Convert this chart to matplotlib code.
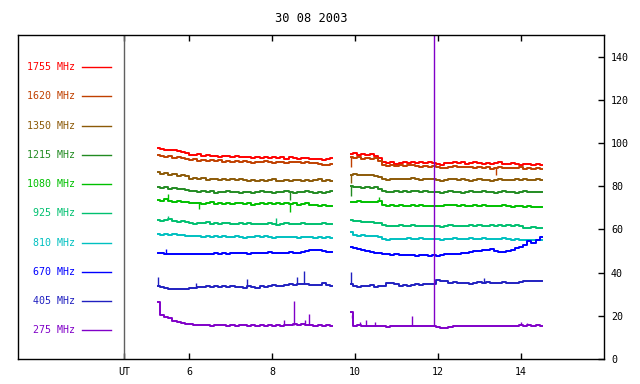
import numpy as np
import matplotlib
matplotlib.use("Agg")
import matplotlib.pyplot as plt

plt.rcParams['font.family'] = 'DejaVu Sans Mono'
plt.rcParams['font.size'] = 7.2

title = "30 08 2003"
labels = ["1755 MHz", "1620 MHz", "1350 MHz", "1215 MHz", "1080 MHz",
          "925 MHz", "810 MHz", "670 MHz", "405 MHz", "275 MHz"]
colors = ["#ff0000", "#c04000", "#8c5a08", "#228b22", "#00c000",
          "#00c070", "#00c0c0", "#0000ff", "#2020c0", "#8000c8"]

# two recording segments, 0.1 h sampling
start1 = 5.25
start2 = 9.9

f1755_a = [97.8, 97.2, 96.9, 96.6, 96.8, 96.2, 95.9, 95.4, 94.6, 94.3,
           94.8, 94.1, 94.4, 93.8, 94.2, 93.6, 93.9, 94.1, 93.5, 93.8,
           93.3, 93.7, 93.4, 93.0, 93.5, 93.2, 93.6, 93.1, 93.4, 93.0,
           93.3, 92.8, 93.5, 93.1, 92.7, 93.2, 92.9, 92.5, 92.8, 92.4,
           92.0, 92.6, 92.9]
f1755_b = [94.8, 95.2, 94.6, 95.0, 94.4, 94.7, 94.2, 93.0, 91.0, 90.6,
           91.0, 90.5, 90.9, 91.3, 90.7, 91.1, 90.8, 91.2, 90.6, 91.0,
           90.8, 90.2, 89.8, 90.6, 90.9, 91.4, 90.7, 91.1, 90.5, 90.8,
           91.2, 90.6, 90.3, 90.8, 90.1, 90.6, 91.0, 90.4, 90.2, 90.7,
           90.3, 89.9, 90.5, 90.1, 89.8, 90.4, 90.0]

f1620_a = [94.6, 94.0, 93.5, 93.8, 93.2, 93.5, 93.0, 92.6, 92.0, 92.4,
           91.7, 92.2, 91.5, 92.0, 91.6, 91.9, 91.4, 91.8, 91.2, 91.6,
           91.0, 91.5, 91.3, 90.9, 91.4, 91.0, 91.6, 91.2, 90.8, 91.3,
           91.1, 90.7, 91.2, 91.0, 91.4, 90.8, 91.1, 90.6, 90.9, 90.4,
           89.8, 89.6, 90.5]
f1620_b = [93.5, 93.0, 93.4, 92.8, 93.1, 92.6, 92.9, 91.5, 89.6, 89.3,
           89.7, 89.4, 89.8, 89.2, 89.6, 89.9, 89.5, 89.1, 89.4, 89.0,
           89.3, 88.9, 88.2, 88.6, 88.9, 89.3, 88.8, 89.1, 88.7, 89.0,
           88.6, 88.9, 88.4, 88.7, 88.0, 88.5, 88.8, 88.3, 88.6, 88.2,
           88.5, 88.7, 88.1, 88.4, 87.9, 88.2, 88.0]

f1350_a = [86.4, 85.6, 85.9, 85.2, 85.5, 84.9, 85.1, 84.6, 83.4, 83.8,
           83.2, 83.6, 83.0, 83.5, 83.1, 82.8, 83.3, 82.9, 83.2, 82.7,
           83.1, 82.8, 82.5, 83.0, 82.6, 82.9, 82.4, 82.8, 83.1, 82.6,
           82.3, 82.9, 82.5, 82.7, 83.0, 82.6, 82.9, 82.4, 82.8, 83.1,
           82.6, 82.9, 82.5]
f1350_b = [85.0, 85.6, 85.2, 85.4, 85.0, 85.3, 84.9, 84.2, 83.3, 83.0,
           83.2, 83.5, 83.1, 83.4, 83.2, 83.6, 83.3, 83.0, 83.4, 83.1,
           83.3, 82.9, 82.4, 82.8, 83.1, 83.4, 82.9, 83.2, 82.7, 82.4,
           82.9, 83.2, 82.8, 83.0, 82.6, 82.9, 83.3, 82.8, 83.0, 82.7,
           83.1, 82.9, 83.2, 82.8, 83.0, 83.1, 82.9]

f1215_a = [79.7, 79.2, 79.5, 78.9, 79.1, 78.6, 78.8, 78.3, 77.6, 77.9,
           77.4, 77.8, 77.2, 77.6, 77.0, 77.5, 77.3, 77.7, 77.1, 77.4,
           77.0, 77.5, 77.2, 76.8, 77.3, 77.6, 77.1, 77.4, 76.9, 77.5,
           77.2, 77.6, 77.3, 77.0, 77.5, 77.2, 77.7, 77.3, 77.0, 77.4,
           76.8, 77.2, 77.6]
f1215_b = [79.9, 79.5, 79.8, 79.3, 79.6, 79.2, 79.4, 78.5, 77.6, 77.3,
           77.5, 77.8, 77.4, 77.7, 77.2, 77.6, 77.9, 77.3, 77.6, 77.1,
           77.5, 77.2, 77.0, 77.4, 77.7, 77.2, 77.5, 77.0, 77.3, 77.6,
           77.1, 77.4, 77.8, 77.2, 77.5, 77.0, 77.3, 77.6, 77.2, 77.4,
           76.9, 77.3, 77.6, 77.1, 77.4, 77.2, 77.3]

f1080_a = [73.7, 73.2, 74.0, 73.1, 72.8, 73.0, 72.6, 72.9, 72.3, 72.0,
           72.4, 71.8, 72.2, 72.5, 71.9, 72.3, 71.7, 72.1, 71.6, 72.0,
           72.4, 71.8, 72.1, 71.5, 71.9, 72.2, 71.6, 72.0, 71.7, 72.1,
           71.8, 72.2, 71.6, 72.0, 71.4, 71.8, 72.1, 71.5, 71.2, 70.8,
           71.1, 70.7, 71.0]
f1080_b = [72.9, 72.6, 73.0, 72.7, 72.5, 72.9, 72.6, 73.2, 71.3, 71.0,
           71.2, 70.9, 71.3, 71.0, 70.7, 71.1, 70.8, 71.2, 70.9, 70.6,
           71.0, 70.7, 70.9, 71.2, 71.5, 71.1, 70.8, 71.2, 70.6, 70.9,
           71.1, 70.8, 71.3, 70.9, 70.6, 71.0, 70.7, 71.1, 70.8, 70.5,
           70.9, 70.6, 70.3, 70.6, 70.2, 70.5, 70.3]

f925_a = [64.4, 64.0, 64.3, 65.0, 63.8, 63.5, 63.7, 63.2, 63.0, 62.7,
          63.1, 62.8, 63.2, 62.6, 62.9, 62.5, 62.8, 63.1, 62.6, 62.4,
          62.8, 62.5, 62.9, 62.6, 62.3, 62.7, 62.4, 62.8, 62.5, 62.2,
          62.6, 62.9, 62.5, 62.7, 62.4, 62.8, 62.6, 62.3, 62.7, 62.5,
          62.8, 62.4, 62.6]
f925_b = [64.4, 63.8, 64.0, 63.6, 63.3, 63.5, 63.1, 62.8, 61.9, 61.6,
          61.8, 61.5, 61.9, 61.6, 61.8, 62.1, 61.7, 61.4, 61.8, 61.5,
          61.7, 61.5, 61.3, 61.6, 61.9, 61.5, 61.8, 61.4, 61.7, 62.0,
          61.6, 61.9, 61.5, 61.8, 62.1, 61.7, 61.9, 61.6, 62.0, 61.7,
          61.9, 61.5, 60.8, 60.6, 60.9, 60.7, 60.6]

f810_a = [58.0, 57.6, 57.9, 57.5, 57.7, 57.3, 57.6, 57.1, 57.0, 56.8,
          57.1, 56.7, 57.0, 56.6, 56.9, 56.5, 56.8, 56.4, 56.7, 56.9,
          56.5, 56.2, 56.6, 56.4, 56.8, 56.5, 56.9, 56.4, 56.2, 56.5,
          56.3, 56.7, 56.4, 56.6, 56.2, 56.5, 56.3, 56.6, 56.2, 56.4,
          56.1, 56.3, 56.0]
f810_b = [58.6, 57.4, 56.9, 57.2, 56.8, 57.1, 56.8, 56.4, 55.6, 55.3,
          55.6, 55.4, 55.7, 55.5, 55.8, 55.4, 55.6, 55.9, 55.5, 55.7,
          55.4, 55.6, 55.3, 55.7, 55.5, 55.8, 55.4, 55.7, 55.5, 55.9,
          55.6, 55.4, 55.8, 55.5, 55.7, 55.4, 55.6, 55.9, 55.5, 55.3,
          55.6, 55.1, 55.0, 55.2, 55.0, 55.1, 55.0]

f670_a = [49.2, 49.0, 48.6, 48.7, 48.5, 48.6, 48.4, 48.7, 48.5, 48.6,
          48.7, 48.5, 48.8, 48.6, 48.9, 48.7, 49.0, 48.8, 49.1, 48.9,
          49.2, 49.0, 48.8, 49.1, 49.3, 49.0, 49.2, 49.4, 49.1, 49.3,
          49.0, 49.2, 49.5, 49.3, 49.1, 49.6, 50.1, 50.5, 50.3, 50.4,
          50.0, 49.6, 49.5]
f670_b = [52.0, 51.5, 51.0, 50.5, 50.0, 49.6, 49.2, 48.9, 48.6, 48.4,
          48.2, 48.4, 48.1, 48.3, 48.0, 48.2, 47.9, 48.1, 48.0, 47.8,
          48.1, 47.8, 48.3, 48.5, 48.4, 48.7, 48.6, 48.9, 49.2, 49.4,
          49.8, 50.2, 50.6, 50.3, 50.7, 50.1, 49.7, 49.4, 49.8, 50.4,
          51.2, 52.0, 53.0, 54.5, 53.8, 55.2, 56.3]

f405_a = [34.0, 33.4, 33.0, 32.4, 32.2, 32.5, 32.3, 32.6, 32.9, 33.0,
          33.4, 33.2, 33.6, 33.5, 33.8, 33.4, 33.7, 33.3, 33.6, 33.2,
          33.5, 33.0, 33.8, 33.4, 33.1, 33.6, 33.3, 33.9, 34.3, 34.0,
          33.8, 34.2, 34.6, 34.4, 34.7, 34.5, 34.8, 34.4, 34.1, 34.3,
          35.4, 34.3, 33.6]
f405_b = [34.5, 33.6, 33.3, 34.0, 33.9, 34.1, 33.5, 33.6, 33.8, 35.4,
          35.2, 34.8, 34.0, 34.2, 33.9, 34.1, 34.6, 34.4, 34.7, 34.5,
          34.8, 36.6, 36.3, 36.0, 35.4, 35.6, 35.2, 35.0, 35.3, 34.9,
          35.1, 35.5, 35.3, 35.6, 35.2, 35.4, 35.1, 35.5, 35.3, 35.0,
          35.4, 35.7, 36.1, 36.3, 35.9, 36.2, 36.0]

f275_a = [26.6, 20.4, 19.5, 18.9, 17.8, 17.3, 16.6, 16.2, 16.0, 15.8,
          15.6, 15.9, 15.7, 15.5, 15.8, 15.6, 15.9, 15.5, 15.7, 15.4,
          15.8, 15.6, 15.3, 15.7, 15.5, 15.8, 15.4, 15.6, 15.3, 15.7,
          15.5, 15.8, 15.6, 16.0, 15.7, 16.2, 15.9, 15.6, 15.4, 15.7,
          15.5, 15.6, 15.4]
f275_b = [21.9, 15.4, 15.6, 15.3, 15.5, 15.4, 15.3, 15.5, 15.2, 15.0,
          15.3, 15.1, 15.4, 15.2, 15.3, 15.4, 15.2, 15.3, 15.4, 15.3,
          15.2, 15.0, 14.4, 14.5, 15.0, 15.2, 15.1, 15.3, 15.2, 15.3,
          15.1, 15.3, 15.2, 15.4, 15.3, 15.2, 15.4, 15.3, 15.5, 15.3,
          15.4, 15.7, 15.5, 15.6, 15.4, 15.6, 15.5]

# short single-sample spikes: (time, value)
spk1755 = []
spk1620 = [(9.9, 88.7), (13.4, 85.3)]
spk1350 = [(9.9, 81.5)]
spk1215 = [(8.43, 73.7), (9.9, 75.5)]
spk1080 = [(5.5, 76.3), (6.23, 69.5), (8.44, 68.0), (10.59, 75.2)]
spk925 = [(5.5, 66.3), (8.1, 65.4)]
spk810 = []
spk670 = [(5.45, 51.0)]
spk405 = [(5.25, 37.9), (6.18, 35.1), (7.4, 37.1), (8.6, 37.9), (8.78, 40.8),
          (9.9, 40.2), (13.1, 37.7)]
spk275 = [(8.3, 18.0), (8.54, 27.0), (8.8, 18.0), (8.9, 20.9), (9.92, 19.2),
          (10.12, 17.3), (10.26, 18.0), (10.48, 17.3), (11.38, 19.9),
          (11.9, 200.0), (14.0, 17.0), (14.15, 16.8)]

seg_a = [f1755_a, f1620_a, f1350_a, f1215_a, f1080_a, f925_a, f810_a, f670_a, f405_a, f275_a]
seg_b = [f1755_b, f1620_b, f1350_b, f1215_b, f1080_b, f925_b, f810_b, f670_b, f405_b, f275_b]
spikes = [spk1755, spk1620, spk1350, spk1215, spk1080, spk925, spk810, spk670, spk405, spk275]

fig = plt.figure(figsize=(6.4, 3.84), dpi=100)
ax = fig.add_axes([0.0281, 0.0651, 0.9157, 0.8438])

for i in range(len(labels)):
    c = colors[i]
    ta = start1 + 0.1 * np.arange(len(seg_a[i]))
    tb = start2 + 0.1 * np.arange(len(seg_b[i]))
    ax.plot(ta, seg_a[i], color=c, lw=1.4, drawstyle='steps-mid')
    ax.plot(tb, seg_b[i], color=c, lw=1.4, drawstyle='steps-mid')
    if spikes[i]:
        st = np.array([s[0] for s in spikes[i]])
        sv = np.array([s[1] for s in spikes[i]])
        t_all = np.concatenate([ta, tb])
        v_all = np.concatenate([seg_a[i], seg_b[i]])
        base = np.interp(st, t_all, v_all)
        ax.vlines(st, base, sv, color=c, lw=1.0)

# key on the left
for i in range(len(labels)):
    yk = 0.9012 - i * 0.0903
    ax.text(0.0973, yk, labels[i], transform=ax.transAxes, ha='right',
            va='center', color=colors[i])
    ax.plot([0.1092, 0.1587], [yk, yk], transform=ax.transAxes,
            color=colors[i], lw=1.0)

ax.axvline(4.44, color='#606060', lw=1.0)

ax.set_xlim(1.88, 16.0)
ax.set_ylim(0, 150)
ax.set_xticks([4.44, 6, 8, 10, 12, 14])
ax.set_xticklabels(['UT', '6', '8', '10', '12', '14'])
ax.set_yticks(np.arange(0, 141, 20))
ax.yaxis.tick_right()
ax.tick_params(axis='x', direction='in', top=True, length=4, pad=6, width=1)
ax.tick_params(axis='y', direction='in', left=False, right=True, length=4, pad=5, width=1)
for s in ax.spines.values():
    s.set_linewidth(1.0)

ax.set_title(title, pad=9)

fig.savefig("out.png", dpi=100)
